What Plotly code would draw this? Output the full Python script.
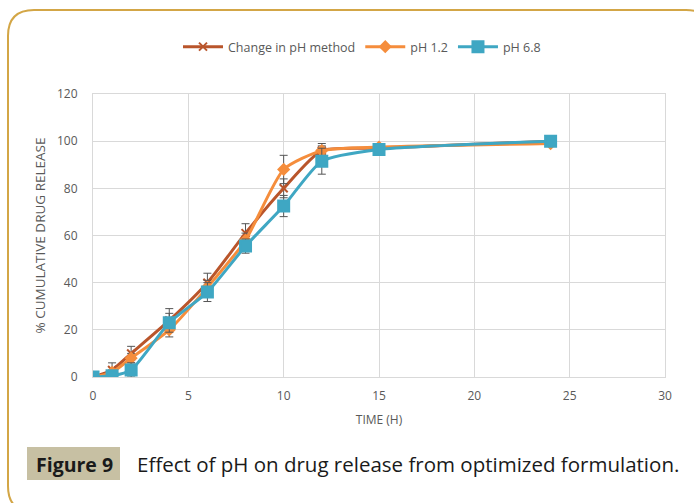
import plotly.graph_objects as go

time_h = [0, 1, 2, 4, 6, 8, 10, 12, 15, 24]
change_ph = [0, 3, 10, 24, 40, 61, 80, 96, 97, 100]
change_ph_err = [0, 3, 3, 5, 4, 4, 4, 3, 1, 1]
ph12 = [0, 2, 8, 20, 38, 58, 88, 96, 97.5, 99]
ph12_err = [0, 1, 2, 3, 3, 3, 6, 2, 1, 1]
ph68 = [0, 0.5, 3, 23, 36, 55.5, 72.5, 91.5, 96.5, 100]
ph68_err = [0, 1, 3, 4, 4, 3, 4.5, 5.5, 1, 1]

W, H = 694, 503
L, R, T, B = 93, 29, 94, 126
PW, PH = W - L - R, H - T - B

def px(x):
    return (x - L) / PW

def py(y):
    return (H - B - y) / PH

font = "Open Sans"
fig = go.Figure()

series = [
    ("Change in pH method", change_ph, change_ph_err, "#b9552b", "x-thin-open", 8),
    ("pH 1.2", ph12, ph12_err, "#f58d3c", "diamond", 8),
    ("pH 6.8", ph68, ph68_err, "#3fa7c3", "square", 11),
]
for name, ys, err, col, sym, ms in series:
    fig.add_trace(go.Scatter(
        x=time_h, y=ys, name=name, mode="lines+markers",
        line=dict(color=col, width=3, shape="spline", smoothing=0.6),
        marker=dict(symbol=sym, size=ms, color=col,
                    line=dict(color=col, width=2)),
        error_y=dict(type="data", array=err, visible=True,
                     color="#555555", thickness=1, width=4),
    ))

grid = "#d9d9d9"
fig.update_xaxes(range=[0, 30], dtick=5, tick0=0, showgrid=True, gridcolor=grid,
                 zeroline=False, showline=True, linecolor=grid, mirror=True,
                 tickfont=dict(family=font, size=12, color="#595959"),
                 ticklabelstandoff=8,
                 title=dict(text="TIME (H)", font=dict(family=font, size=12, color="#595959"),
                            standoff=12))
fig.update_yaxes(range=[0, 120], dtick=20, tick0=0, showgrid=True, gridcolor=grid,
                 zeroline=False, showline=True, linecolor=grid, mirror=True,
                 tickfont=dict(family=font, size=12, color="#595959"),
                 ticklabelstandoff=12,
                 title=dict(text="% CUMULATIVE DRUG RELEASE",
                            font=dict(family=font, size=13.5, color="#595959"), standoff=8))

# rounded border
x0, x1, y0, y1, r = 8, 712, 10, 512, 26
path = (f"M {px(x0+r)} {py(y0)} L {px(x1-r)} {py(y0)} "
        f"Q {px(x1)} {py(y0)} {px(x1)} {py(y0+r)} "
        f"L {px(x1)} {py(y1-r)} Q {px(x1)} {py(y1)} {px(x1-r)} {py(y1)} "
        f"L {px(x0+r)} {py(y1)} Q {px(x0)} {py(y1)} {px(x0)} {py(y1-r)} "
        f"L {px(x0)} {py(y0+r)} Q {px(x0)} {py(y0)} {px(x0+r)} {py(y0)} Z")
shapes = [
    dict(type="path", xref="paper", yref="paper", path=path,
         line=dict(color="#d3a646", width=2), layer="below"),
    dict(type="rect", xref="paper", yref="paper",
         x0=px(27), x1=px(120), y0=py(447), y1=py(480),
         fillcolor="#c7c0a3", line=dict(width=0), layer="below"),
]

annotations = [
    dict(text="<b>Figure 9</b>", xref="paper", yref="paper", x=px(74), y=py(464),
         xanchor="center", yanchor="middle", showarrow=False,
         font=dict(family=font, size=19.5, color="#1a1a1a")),
    dict(text="Effect of pH on drug release from optimized formulation.",
         xref="paper", yref="paper", x=px(135), y=py(464),
         xanchor="left", yanchor="middle", showarrow=False,
         font=dict(family=font, size=20.5, color="#1a1a1a")),
]

fig.update_layout(
    width=W, height=H, margin=dict(l=L, r=R, t=T, b=B),
    paper_bgcolor="white", plot_bgcolor="white",
    shapes=shapes, annotations=annotations,
    showlegend=True,
    legend=dict(orientation="h", x=px(362), y=py(47), xanchor="center", yanchor="middle",
                font=dict(family=font, size=12.5, color="#595959"),
                itemwidth=40, bgcolor="rgba(0,0,0,0)"),
)

fig.write_html("out.html")
